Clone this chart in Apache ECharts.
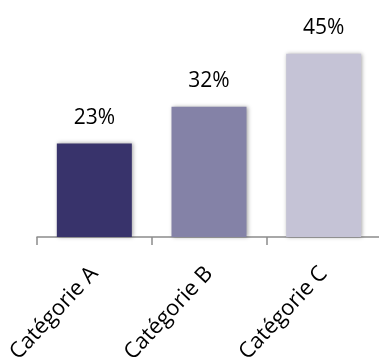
<!DOCTYPE html>
<html>
<head>
<meta charset="utf-8">
<script src="https://cdn.jsdelivr.net/npm/echarts@6/dist/echarts.min.js"></script>
<style>
html,body{margin:0;padding:0;background:#fff;}
#chart{width:379px;height:361px;}
</style>
</head>
<body>
<div id="chart"></div>
<script>
// données
var categories = ['Catégorie A', 'Catégorie B', 'Catégorie C'];
var values = [23, 32, 45];
var barColors = ['#38336b', '#8482a7', '#c5c3d6'];

var chart = echarts.init(document.getElementById('chart'));
var option = {
	animation: false,
	grid: {
		left: 37,
		width: 344,
		top: 33.5,
		height: 203.5,
		outerBoundsMode: 'none'
	},
	xAxis: {
		type: 'category',
		data: categories,
		axisLine: {
			show: true,
			lineStyle: { color: '#8c8c8c', width: 1.5 }
		},
		axisTick: {
			show: true,
			length: 8,
			lineStyle: { color: '#8c8c8c', width: 1.5 }
		},
		axisLabel: {
			rotate: 47,
			margin: 33,
			fontFamily: 'Open Sans',
			fontSize: 22,
			color: '#000'
		}
	},
	yAxis: {
		type: 'value',
		min: 0,
		max: 50,
		show: false
	},
	series: [{
		type: 'bar',
		barWidth: 75,
		data: values.map(function (v, i) {
			return { value: v, itemStyle: { color: barColors[i] } };
		}),
		itemStyle: {
			shadowColor: 'rgba(0,0,0,0.35)',
			shadowBlur: 4,
			shadowOffsetX: 1,
			shadowOffsetY: 0
		},
		label: {
			show: true,
			position: 'top',
			distance: 15,
			fontFamily: 'Open Sans',
			fontSize: 21,
			color: '#000',
			formatter: '{c}%'
		}
	}]
};
chart.setOption(option);
</script>
</body>
</html>
